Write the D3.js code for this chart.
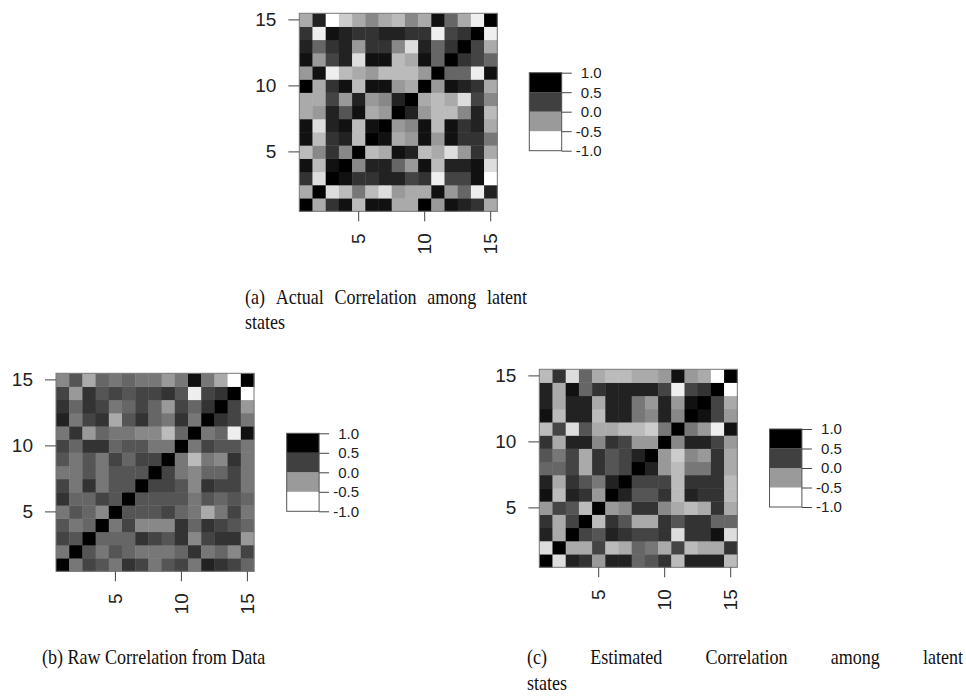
<!DOCTYPE html>
<html>
<head>
<meta charset="utf-8">
<script src="https://cdn.jsdelivr.net/npm/d3@7"></script>
<style>
  body { margin: 0; background: #fff; }
  .axis text { font-family: "Liberation Sans", Arial, sans-serif; font-size: 19px; fill: #222; }
  .axis line { stroke: #444; }
  .lgd text { font-family: "Liberation Sans", Arial, sans-serif; font-size: 15px; fill: #222; }
  .lgd line { stroke: #444; }
  .cap { font-family: "Liberation Serif", "Times New Roman", serif; font-size: 20.5px; fill: #111; }
</style>
</head>
<body>
<svg id="fig" width="966" height="700"></svg>
<script>
// states 1..15, rows are y = 1 (bottom) .. 15 (top)
const states = d3.range(1, 16)
const axisTicks = [5, 10, 15]

const legendBreaks = [-1, -0.5, 0, 0.5, 1]
const legendLabels = ["-1.0", "-0.5", "0.0", "0.5", "1.0"]

// (a) actual correlation among latent states
const corrActual = [
  [1, -0.33, 0.6, 0.87, -0.47, 0.87, 0.87, -0.33, -0.33, 1, -0.2, 0.87, 0.73, 0.6, -0.33],
  [-0.33, 1, -0.73, -0.47, 0.07, -0.47, -0.73, -0.2, -0.33, -0.33, 0.87, -0.2, 0.2, -0.87, 0.73],
  [0.6, -0.73, 1, 0.87, 0.6, 0.6, 0.73, 0.73, 0.47, 0.6, -0.87, 0.47, 0.47, 0.87, -1],
  [0.87, -0.47, 0.87, 1, -0.07, 0.73, 0.73, 0.2, -0.2, 0.87, -0.47, 0.73, 0.73, 0.87, -0.73],
  [-0.47, -0.07, 0.6, -0.07, 1, -0.47, -0.33, 0.87, 0.73, -0.47, -0.33, -0.73, -0.2, 0.6, -0.33],
  [0.87, -0.47, 0.6, 0.73, -0.47, 1, 0.87, -0.33, -0.2, 0.87, -0.2, 0.87, 0.6, 0.6, 0.07],
  [0.87, -0.73, 0.73, 0.87, -0.47, 0.87, 1, -0.2, -0.07, 0.87, -0.47, 0.87, 0.6, 0.73, -0.33],
  [-0.33, -0.2, 0.73, 0.33, 0.87, -0.33, -0.2, 1, 0.73, -0.2, -0.47, -0.47, -0.07, 0.73, -0.47],
  [-0.33, -0.33, 0.47, -0.2, 0.73, -0.2, -0.07, 0.73, 1, -0.33, -0.47, -0.33, -0.73, 0.47, -0.07],
  [1, -0.33, 0.6, 0.87, -0.47, 0.87, 0.87, -0.2, -0.33, 1, -0.2, 0.87, 0.73, 0.6, -0.33],
  [-0.2, 0.87, -0.87, -0.47, -0.33, -0.2, -0.47, -0.47, -0.47, -0.2, 1, 0.2, 0.2, -0.87, 0.87],
  [0.87, -0.2, 0.47, 0.73, -0.73, 0.87, 0.87, -0.47, -0.33, 0.87, 0.2, 1, 0.6, 0.47, 0.2],
  [0.73, 0.2, 0.6, 0.73, -0.2, 0.6, 0.6, -0.07, -0.73, 0.73, 0.2, 0.6, 1, 0.47, -0.33],
  [0.6, -0.87, 0.87, 0.73, 0.6, 0.6, 0.73, 0.73, 0.6, 0.6, -0.87, 0.47, 0.6, 1, -0.87],
  [-0.33, 0.73, -1, -0.6, -0.33, -0.07, -0.33, -0.47, -0.07, -0.33, 0.87, 0.2, -0.33, -0.87, 1]
]

// (b) raw correlation from data
const corrRaw = [
  [1, 0.07, 0.47, 0.33, 0.07, 0.6, 0.47, 0.07, 0.33, 0.47, 0.07, 0.73, 0.6, 0.47, 0.2],
  [0.07, 1, 0.33, 0.07, 0.33, 0.2, 0.07, 0.07, 0.07, 0.2, 0.6, 0.07, 0.2, -0.07, 0.47],
  [0.47, 0.33, 1, 0.2, 0.2, 0.2, 0.6, 0.47, 0.33, 0.6, -0.07, 0.47, 0.6, 0.6, -0.2],
  [0.33, 0.07, 0.2, 1, 0.07, 0.47, -0.07, -0.07, -0.07, 0.6, 0.2, 0.6, 0.47, 0.33, 0.2],
  [0.07, 0.33, 0.2, -0.07, 1, 0.33, 0.33, 0.33, 0.47, 0.2, 0.07, -0.33, 0.07, 0.47, 0.07],
  [0.6, 0.2, 0.2, 0.47, 0.33, 1, 0.33, 0.33, 0.33, 0.33, 0.07, 0.33, 0.2, 0.33, 0.2],
  [0.47, 0.07, 0.6, 0.07, 0.33, 0.33, 1, 0.47, 0.47, 0.33, -0.07, 0.6, 0.47, 0.47, 0.07],
  [0.07, 0.07, 0.33, 0.07, 0.33, 0.33, 0.33, 1, 0.47, 0.07, -0.07, 0.2, 0.2, 0.47, 0.07],
  [0.33, 0.07, 0.33, 0.07, 0.47, 0.2, 0.47, 0.47, 1, 0.07, -0.47, 0.07, -0.07, 0.6, 0.07],
  [0.47, 0.2, 0.6, 0.6, 0.2, 0.33, 0.33, 0.07, 0.07, 1, 0.07, 0.47, 0.33, 0.33, 0.07],
  [0.07, 0.6, -0.2, 0.2, 0.07, 0.07, -0.07, -0.07, -0.47, 0.2, 1, 0.07, 0.2, -0.87, 0.87],
  [0.73, 0.07, 0.47, 0.6, -0.33, 0.33, 0.6, 0.2, 0.07, 0.6, 0.07, 1, 0.6, 0.47, 0.07],
  [0.6, 0.2, 0.6, 0.47, 0.07, 0.2, 0.47, 0.2, -0.2, 0.47, 0.2, 0.6, 1, 0.47, -0.2],
  [0.47, -0.2, 0.6, 0.33, 0.47, 0.33, 0.47, 0.47, 0.6, 0.33, -0.87, 0.47, 0.6, 1, -1],
  [-0.07, 0.33, -0.33, 0.2, 0.07, 0.2, 0.07, 0.07, -0.2, 0.07, 0.87, 0.07, -0.33, -1, 1]
]

// (c) estimated correlation among latent states
const corrEstimated = [
  [1, -0.73, 0.73, 0.6, -0.2, 0.73, 0.73, 0.2, 0.33, 0.6, -0.47, 0.73, 0.73, 0.73, -0.47],
  [-0.73, 1, -0.33, -0.33, 0.47, -0.47, -0.33, 0.2, 0.07, -0.33, 0.47, -0.47, -0.33, -0.33, 0.6],
  [0.73, -0.33, 1, 0.47, 0.33, 0.73, 0.6, 0.47, 0.47, 0.6, -0.73, 0.6, 0.6, 0.87, -0.73],
  [0.6, -0.33, 0.47, 1, -0.47, 0.6, 0.33, -0.33, -0.33, 0.6, 0.33, 0.6, 0.6, 0.2, 0.2],
  [-0.2, 0.47, 0.33, -0.47, 1, -0.2, -0.07, 0.6, 0.6, -0.07, -0.33, -0.47, -0.33, 0.6, -0.33],
  [0.87, -0.47, 0.73, 0.6, -0.2, 1, 0.73, 0.33, 0.33, 0.6, -0.47, 0.73, 0.6, 0.6, -0.47],
  [0.73, -0.33, 0.6, 0.33, 0.07, 0.73, 1, 0.47, 0.47, 0.47, -0.47, 0.6, 0.6, 0.6, -0.47],
  [0.2, 0.2, 0.47, -0.33, 0.6, 0.33, 0.47, 1, 0.73, -0.2, -0.47, 0.07, 0.07, 0.6, -0.33],
  [0.33, 0.07, 0.47, -0.33, 0.6, 0.33, 0.47, 0.73, 1, -0.2, -0.6, -0.07, -0.2, 0.6, -0.33],
  [0.6, -0.33, 0.73, 0.73, -0.07, 0.6, 0.47, -0.2, -0.2, 1, -0.07, 0.73, 0.73, 0.47, -0.2],
  [-0.47, 0.47, -0.73, 0.33, -0.33, -0.33, -0.47, -0.47, -0.6, 0.07, 1, 0.07, -0.2, -0.87, 0.87],
  [0.87, -0.47, 0.73, 0.73, -0.47, 0.73, 0.73, 0.07, -0.07, 0.73, -0.07, 1, 0.87, 0.47, -0.2],
  [0.73, -0.33, 0.73, 0.73, -0.33, 0.73, 0.73, 0.07, -0.2, 0.73, -0.2, 0.87, 1, 0.47, -0.33],
  [0.73, -0.33, 0.87, 0.2, 0.6, 0.73, 0.73, 0.73, 0.73, 0.47, -0.87, 0.47, 0.6, 1, -1],
  [-0.47, 0.6, -0.73, 0.2, -0.33, -0.47, -0.47, -0.33, -0.33, -0.2, 0.87, -0.2, -0.33, -1, 1]
]

// layout
const PLOT = 198
const LGD_W = 32.4
const LGD_H = 78
const CAP_SX = 0.88   // captions a touch narrow in the original
const legendShades = ["#ffffff", "#9a9a9a", "#404040", "#000000"]

const panels = [
  { m: corrActual,    x0: 299.3, y0: 13.3,  lx: 529.3, ly: 72.7 },
  { m: corrRaw,       x0: 56,    y0: 373.3, lx: 286.7, ly: 433.3 },
  { m: corrEstimated, x0: 539.3, y0: 369.3, lx: 769.5, ly: 429 }
]

const color = d3.scaleLinear().domain([-1, 1]).range(["#ffffff", "#000000"])

const svg = d3.select("#fig")

panels.forEach(p => {
  const x = d3.scaleBand().domain(states).range([p.x0, p.x0 + PLOT])
  const y = d3.scaleBand().domain(states).range([p.y0 + PLOT, p.y0])

  const cells = []
  p.m.forEach((row, i) => row.forEach((v, j) => cells.push({ r: states[i], c: states[j], v: v })))

  const g = svg.append("g")
  g.selectAll("rect.cell")
    .data(cells)
    .join("rect")
    .attr("class", "cell")
    .attr("x", d => x(d.c))
    .attr("y", d => y(d.r))
    .attr("width", x.bandwidth() + 0.4)
    .attr("height", y.bandwidth() + 0.4)
    .style("fill", d => color(d.v))

  g.append("rect")
    .attr("x", p.x0).attr("y", p.y0)
    .attr("width", PLOT).attr("height", PLOT)
    .style("fill", "none").style("stroke", "#777").style("stroke-width", 1)

  // y axis
  g.append("g")
    .attr("class", "axis")
    .attr("transform", `translate(${p.x0},0)`)
    .call(d3.axisLeft(y).tickValues(axisTicks).tickSize(11).tickPadding(12))
    .call(a => a.select(".domain").remove())

  // x axis, labels turned vertical
  g.append("g")
    .attr("class", "axis")
    .attr("transform", `translate(0,${p.y0 + PLOT})`)
    .call(d3.axisBottom(x).tickValues(axisTicks).tickSize(10))
    .call(a => a.select(".domain").remove())
    .call(a => a.selectAll("text")
      .attr("transform", "rotate(-90)")
      .attr("text-anchor", "end")
      .attr("x", -22).attr("y", 0).attr("dy", "0.35em"))

  // legend
  const ly = d3.scaleLinear().domain([-1, 1]).range([p.ly + LGD_H, p.ly])
  const lg = svg.append("g").attr("class", "lgd")
  lg.selectAll("rect")
    .data(legendShades)
    .join("rect")
    .attr("x", p.lx)
    .attr("y", (d, i) => ly(legendBreaks[i + 1]))
    .attr("width", LGD_W)
    .attr("height", (d, i) => ly(legendBreaks[i]) - ly(legendBreaks[i + 1]))
    .style("fill", d => d)
  lg.append("rect")
    .attr("x", p.lx).attr("y", p.ly).attr("width", LGD_W).attr("height", LGD_H)
    .style("fill", "none").style("stroke", "#555").style("stroke-width", 1)
  lg.append("g")
    .attr("transform", `translate(${p.lx + LGD_W},0)`)
    .call(d3.axisRight(ly).tickValues(legendBreaks).tickSize(10)
      .tickFormat((d, i) => legendLabels[i]))
    .call(a => a.select(".domain").remove())
    .call(a => a.selectAll("text").attr("text-anchor", "end").attr("x", 40))
})

// captions, justified like the paper
function capText(s, x, yb) {
  return svg.append("text").attr("class", "cap")
    .attr("transform", `translate(${x},${yb}) scale(${CAP_SX},1)`)
    .text(s)
}

function justifiedLine(words, x1, x2, yb) {
  const t = words.map(w => capText(w, x1, yb))
  const wd = t.map(s => s.node().getComputedTextLength() * CAP_SX)
  const gap = (x2 - x1 - d3.sum(wd)) / (words.length - 1)
  let xx = x1
  t.forEach((s, i) => {
    s.attr("transform", `translate(${xx},${yb}) scale(${CAP_SX},1)`)
    xx += wd[i] + gap
  })
}

justifiedLine(["(a)", "Actual", "Correlation", "among", "latent"], 245, 527, 304)
capText("states", 245, 329)

capText("(b) Raw Correlation from Data", 42, 664)

justifiedLine(["(c)", "Estimated", "Correlation", "among", "latent"], 527, 963, 664)
capText("states", 527, 690)
</script>
</body>
</html>
